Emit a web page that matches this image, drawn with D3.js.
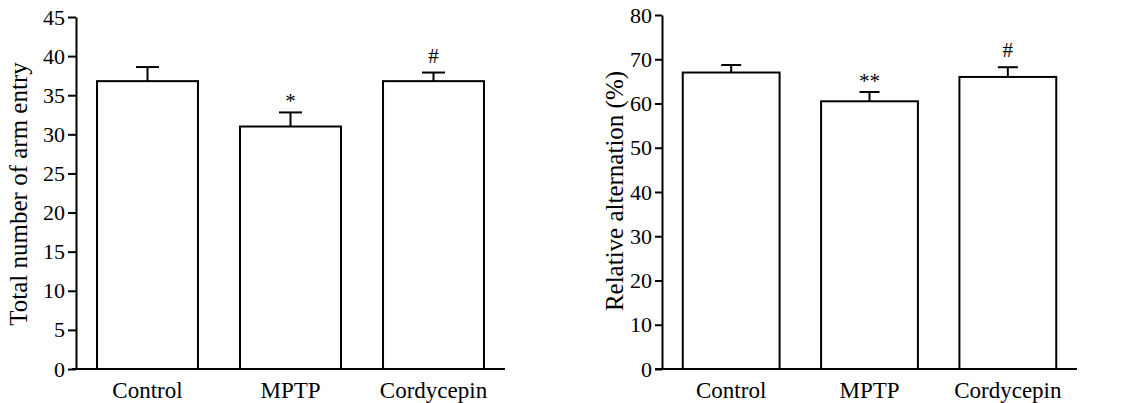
<!DOCTYPE html>
<html>
<head>
<meta charset="utf-8">
<script src="https://cdn.jsdelivr.net/npm/d3@7"></script>
<style>
  html, body { margin: 0; padding: 0; background: #fff; }
  svg { display: block; }
  text { font-family: "Liberation Serif", "Times New Roman", serif; fill: #000; }
</style>
</head>
<body>
<svg id="chart" width="1128" height="403"></svg>
<script>
// ---- Data ----
const categories = ["Control", "MPTP", "Cordycepin"];

const armEntryMean = [36.8, 31.0, 36.8];
const armEntryErr  = [1.8, 1.8, 1.1];
const armEntryMarks = ["", "*", "#"];
const armEntryTicks = [0, 5, 10, 15, 20, 25, 30, 35, 40, 45];

const alternationMean = [67.0, 60.5, 66.0];
const alternationErr  = [1.7, 2.1, 2.2];
const alternationMarks = ["", "**", "#"];
const alternationTicks = [0, 10, 20, 30, 40, 50, 60, 70, 80];

const svg = d3.select("#chart");

function drawPanel(cfg) {
  const g = svg.append("g");
  const x = d3.scaleBand()
    .domain(categories)
    .range([cfg.x0, cfg.x1])
    .paddingInner(cfg.padInner)
    .paddingOuter(cfg.padInner / 2);
  const y = d3.scaleLinear()
    .domain([0, cfg.yMax])
    .range([cfg.yBottom, cfg.yTop]);

  // y axis
  const yAxis = g.append("g")
    .attr("transform", `translate(${cfg.x0},0)`)
    .call(d3.axisLeft(y).tickValues(cfg.ticks).tickSize(cfg.tickLen).tickSizeOuter(0).tickPadding(3));
  yAxis.select(".domain").attr("stroke", "#000").attr("stroke-width", 2);
  yAxis.selectAll(".tick line").attr("stroke", "#000").attr("stroke-width", 2);
  yAxis.selectAll(".tick text")
    .style("font-family", '"Liberation Serif", "Times New Roman", serif')
    .style("font-size", "22px")
    .attr("fill", "#000");

  // bars
  const data = categories.map((c, i) => ({c, m: cfg.mean[i], e: cfg.err[i], mark: cfg.marks[i]}));
  g.selectAll("rect.bar").data(data).join("rect")
    .attr("class", "bar")
    .attr("x", d => x(d.c))
    .attr("y", d => y(d.m))
    .attr("width", x.bandwidth())
    .attr("height", d => y(0) - y(d.m))
    .attr("fill", "#fff")
    .attr("stroke", "#000")
    .attr("stroke-width", 2);

  // error bars (upper only)
  const cx = d => x(d.c) + x.bandwidth() / 2;
  g.selectAll("line.err").data(data).join("line")
    .attr("class", "err")
    .attr("x1", cx).attr("x2", cx)
    .attr("y1", d => y(d.m)).attr("y2", d => y(d.m + d.e))
    .attr("stroke", "#000").attr("stroke-width", 2);
  g.selectAll("line.cap").data(data).join("line")
    .attr("class", "cap")
    .attr("x1", d => cx(d) - cfg.capW / 2).attr("x2", d => cx(d) + cfg.capW / 2)
    .attr("y1", d => y(d.m + d.e)).attr("y2", d => y(d.m + d.e))
    .attr("stroke", "#000").attr("stroke-width", 2);

  // significance marks
  g.selectAll("text.mark").data(data.filter(d => d.mark)).join("text")
    .attr("class", "mark")
    .attr("x", cx)
    .attr("y", d => d.mark === "#" ? y(d.m + d.e) - 10 : y(d.m + d.e) - 4)
    .attr("text-anchor", "middle")
    .style("font-size", "21px")
    .text(d => d.mark);

  // x axis baseline
  g.append("line")
    .attr("x1", cfg.x0 - cfg.axisLeftExt).attr("x2", cfg.x1)
    .attr("y1", y(0)).attr("y2", y(0))
    .attr("stroke", "#000").attr("stroke-width", 2);

  // category labels
  g.selectAll("text.cat").data(categories).join("text")
    .attr("class", "cat")
    .attr("x", d => x(d) + x.bandwidth() / 2)
    .attr("y", 398)
    .attr("text-anchor", "middle")
    .style("font-size", "23px")
    .text(d => d);

  // y label
  g.append("text")
    .attr("transform", `translate(${cfg.labelX},${cfg.labelY}) rotate(-90)`)
    .attr("text-anchor", "middle")
    .style("font-size", "25px")
    .text(cfg.label);
}

drawPanel({
  x0: 76, x1: 505, padInner: 0.294,
  yTop: 17, yBottom: 369, yMax: 45,
  ticks: armEntryTicks, tickLen: 8,
  mean: armEntryMean, err: armEntryErr, marks: armEntryMarks,
  capW: 23, axisLeftExt: 4,
  label: "Total number of arm entry", labelX: 27, labelY: 194
});

drawPanel({
  x0: 662, x1: 1077, padInner: 0.30,
  yTop: 15, yBottom: 369, yMax: 80,
  ticks: alternationTicks, tickLen: 7,
  mean: alternationMean, err: alternationErr, marks: alternationMarks,
  capW: 20, axisLeftExt: 7,
  label: "Relative alternation (%)", labelX: 623, labelY: 191
});
</script>
</body>
</html>
